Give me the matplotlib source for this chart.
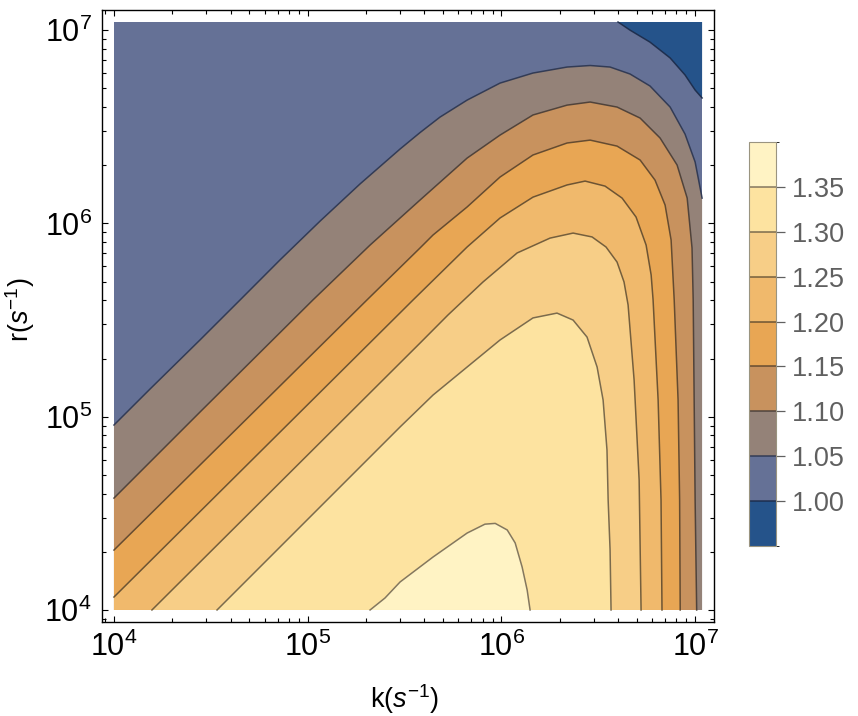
import numpy as np
import matplotlib
matplotlib.use("Agg")
import matplotlib.pyplot as plt
from matplotlib.colors import ListedColormap, BoundaryNorm
from matplotlib.cm import ScalarMappable

plt.rcParams["font.family"] = ["Liberation Sans", "DejaVu Sans"]
plt.rcParams["mathtext.fontset"] = "custom"
plt.rcParams["mathtext.rm"] = "Liberation Sans"
plt.rcParams["mathtext.it"] = "Liberation Sans:italic"
plt.rcParams["mathtext.default"] = "regular"

# contour levels and band colours (lowest band first)
levels = [1.00, 1.05, 1.10, 1.15, 1.20, 1.25, 1.30, 1.35]
bounds = [0.95] + levels + [1.40]
band_colors = ["#25538a", "#657196", "#948278", "#c8925e", "#e8a654",
               "#f0b96c", "#f7ce87", "#fde3a0", "#fff3c4"]
line_colors = ["#1b2a48", "#2b3550", "#473c36", "#59432c", "#5f4a2e",
               "#675436", "#6d5f45", "#776b55"]

# plotted range (log10 of k and r)
k_lo, k_hi = 4.0, 7.036
r_lo, r_hi = 4.0, 7.042

# contour lines, log10(k) and log10(r)
c100_k = [6.602, 6.664, 6.767, 6.871, 6.948, 7.000, 7.036]
c100_r = [7.042, 7.000, 6.938, 6.856, 6.768, 6.690, 6.649]

c105_k = [4.000, 4.186, 4.444, 4.651, 4.857, 5.064, 5.270, 5.477, 5.580, 5.683,
          5.823, 5.993, 6.163, 6.339, 6.458, 6.561, 6.664, 6.767, 6.871, 6.948,
          7.000, 7.036]
c105_r = [4.957, 5.143, 5.397, 5.604, 5.811, 6.012, 6.204, 6.385, 6.470, 6.550,
          6.638, 6.726, 6.778, 6.809, 6.817, 6.809, 6.773, 6.711, 6.602, 6.462,
          6.318, 6.131]

c110_k = [4.000, 4.444, 5.027, 5.322, 5.580, 5.823, 5.993, 6.163, 6.339, 6.458,
          6.597, 6.716, 6.819, 6.907, 6.959, 6.984, 6.990, 6.995, 7.000, 7.008]
c110_r = [4.579, 5.024, 5.604, 5.888, 6.121, 6.338, 6.457, 6.561, 6.612, 6.628,
          6.602, 6.545, 6.442, 6.302, 6.131, 5.873, 5.604, 5.086, 4.569, 4.000]

c115_k = [4.000, 5.306, 5.580, 5.647, 5.823, 5.993, 6.163, 6.339, 6.458, 6.597,
          6.716, 6.793, 6.845, 6.876, 6.892, 6.912, 6.920, 6.923]
c115_r = [4.310, 5.604, 5.873, 5.940, 6.085, 6.240, 6.354, 6.416, 6.431, 6.400,
          6.328, 6.224, 6.095, 5.914, 5.604, 5.086, 4.569, 4.000]

c120_k = [4.000, 5.544, 5.823, 5.993, 6.163, 6.339, 6.432, 6.535, 6.623, 6.695,
          6.747, 6.773, 6.783, 6.809, 6.824, 6.829]
c120_r = [4.067, 5.604, 5.878, 6.028, 6.136, 6.199, 6.219, 6.193, 6.131, 6.033,
          5.888, 5.733, 5.604, 5.086, 4.569, 4.000]

c125_k = [4.196, 5.580, 5.724, 5.905, 6.081, 6.251, 6.370, 6.468, 6.540, 6.597,
          6.633, 6.654, 6.685, 6.711, 6.721]
c125_r = [4.000, 5.381, 5.526, 5.697, 5.847, 5.924, 5.950, 5.930, 5.878, 5.800,
          5.697, 5.578, 5.190, 4.672, 4.000]

c130_k = [4.532, 5.477, 5.647, 5.823, 5.993, 6.163, 6.287, 6.370, 6.442, 6.494,
          6.525, 6.545, 6.551, 6.561, 6.566]
c130_r = [4.000, 4.947, 5.112, 5.257, 5.397, 5.511, 5.536, 5.500, 5.412, 5.257,
          5.086, 4.828, 4.569, 4.310, 4.000]

c135_k = [5.322, 5.399, 5.477, 5.647, 5.823, 5.915, 5.968, 6.030, 6.071, 6.107,
          6.133, 6.148]
c135_r = [4.000, 4.062, 4.145, 4.274, 4.398, 4.444, 4.448, 4.414, 4.347, 4.222,
          4.103, 4.000]

curves = [(c100_k, c100_r), (c105_k, c105_r), (c110_k, c110_r),
          (c115_k, c115_r), (c120_k, c120_r), (c125_k, c125_r),
          (c130_k, c130_r), (c135_k, c135_r)]

fig = plt.figure(figsize=(8.58, 7.16), dpi=100)
ax = fig.add_axes([0.1185, 0.1313, 0.7137, 0.8554])
ax.set_xscale("log")
ax.set_yscale("log")


def fill_region(xs, ys, color):
    ax.fill(10.0 ** np.array(xs), 10.0 ** np.array(ys), color=color, lw=0,
            antialiased=True)


# background band 1.00-1.05
fill_region([k_lo, k_hi, k_hi, k_lo], [r_lo, r_lo, r_hi, r_hi], band_colors[1])
# below 1.00 in the top right corner
fill_region(c100_k + [k_hi], c100_r + [r_hi], band_colors[0])
# above 1.05 (curve ends on the right edge)
fill_region(c105_k + [k_hi, k_lo], c105_r + [r_lo, r_lo], band_colors[2])
# curves from the left edge to the bottom edge
for i in (2, 3, 4):
    ck, cr = curves[i]
    fill_region(ck + [k_lo], cr + [r_lo], band_colors[i + 1])
# closed against the bottom edge
for i in (5, 6, 7):
    ck, cr = curves[i]
    fill_region(ck, cr, band_colors[i + 1])

for (ck, cr), lc in zip(curves, line_colors):
    ax.plot(10.0 ** np.array(ck), 10.0 ** np.array(cr), color=lc, lw=1.1,
            alpha=0.9, solid_joinstyle="round")

ax.set_xlim(10 ** 3.9365, 10 ** 7.0976)
ax.set_ylim(10 ** 3.9379, 10 ** 7.1066)
ax.set_xticks([1e4, 1e5, 1e6, 1e7])
ax.set_yticks([1e4, 1e5, 1e6, 1e7])
ax.tick_params(which="both", direction="in", top=True, right=True,
               color="black", width=0.8)
ax.tick_params(which="major", length=4.5, labelsize=22, pad=7)
ax.tick_params(which="minor", length=2.6)
for sp in ax.spines.values():
    sp.set_linewidth(1.0)

ax.set_xlabel(r"k($\mathit{s}^{-1}$)", fontsize=19.5)
ax.set_ylabel(r"r($\mathit{s}^{-1}$)", fontsize=19.5)
ax.xaxis.set_label_coords(0.495, -0.098)
ax.yaxis.set_label_coords(-0.105, 0.51)

# legend bar
cax = fig.add_axes([749 / 858, 1 - 546 / 716, 27 / 858, 404 / 716])
cmap = ListedColormap(band_colors)
norm = BoundaryNorm(bounds, cmap.N)
cb = fig.colorbar(ScalarMappable(norm=norm, cmap=cmap), cax=cax,
                  ticks=levels, format="%.2f")
for lev, lc in zip(levels, line_colors):
    cax.axhline(lev, color=lc, lw=1.1, alpha=0.9)
cb.outline.set_edgecolor("#9a9480")
cb.outline.set_linewidth(0.8)
cax.tick_params(length=6.5, width=0.9, color="#606060", labelcolor="#606060",
                labelsize=19.5, pad=5)

fig.savefig("out.png", dpi=100)
